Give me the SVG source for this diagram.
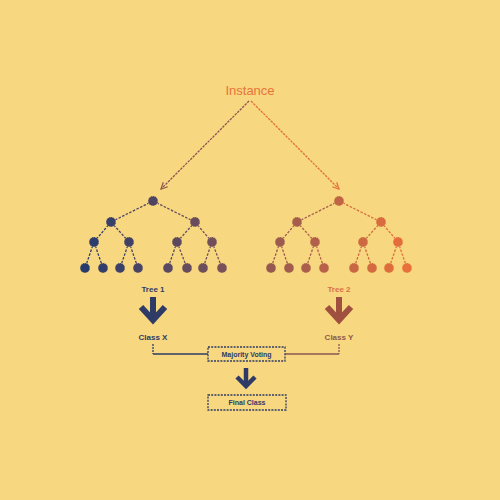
<svg xmlns="http://www.w3.org/2000/svg" width="500" height="500" viewBox="0 0 500 500">
<style>
text{font-family:"Liberation Sans",Arial,sans-serif;text-anchor:middle;dominant-baseline:central}
.e{fill:none;stroke-width:1.3;stroke-dasharray:2.5 1.5}
.n{stroke:#F7D77F;stroke-width:0.8;stroke-dasharray:1 1}
.big{fill:none;stroke-width:6;stroke-linejoin:miter;stroke-linecap:butt}
.box{fill:#F7D77F;stroke:#2E3B66;stroke-width:1.3;stroke-dasharray:2 1.2}
.lbl{font-size:8px;font-weight:bold}
</style>
<defs>
<marker id="ah" viewBox="0 0 10 10" refX="9" refY="5" markerWidth="8" markerHeight="8" orient="auto" markerUnits="userSpaceOnUse">
<path d="M1,1 L9,5 L1,9" fill="none" stroke="context-stroke" stroke-width="1.5"/>
</marker>
</defs>
<rect width="500" height="500" fill="#F7D77F"/>
<g id="instance"><text x="250" y="90" font-size="13" fill="#E8743A">Instance</text></g>
<g id="connectors">
<line x1="249" y1="101" x2="161" y2="189" stroke="#8E5452" stroke-width="1.3" stroke-dasharray="2.5 1" marker-end="url(#ah)"/>
<line x1="251" y1="101" x2="339" y2="189" stroke="#E0703E" stroke-width="1.3" stroke-dasharray="2.5 1" marker-end="url(#ah)"/>
<!-- left tree edges -->
<line class="e" x1="153" y1="201" x2="111" y2="222" stroke="#4F4563"/>
<line class="e" x1="153" y1="201" x2="195" y2="222" stroke="#684C5C"/>
<line class="e" x1="111" y1="222" x2="94" y2="242" stroke="#2B3C6D"/>
<line class="e" x1="111" y1="222" x2="129" y2="242" stroke="#414167"/>
<line class="e" x1="195" y1="222" x2="177" y2="242" stroke="#5D495F"/>
<line class="e" x1="195" y1="222" x2="212" y2="242" stroke="#724F5A"/>
<line class="e" x1="94" y1="242" x2="85" y2="268" stroke="#263A6E"/>
<line class="e" x1="94" y1="242" x2="103" y2="268" stroke="#313D6B"/>
<line class="e" x1="129" y1="242" x2="120" y2="268" stroke="#3B4068"/>
<line class="e" x1="129" y1="242" x2="138" y2="268" stroke="#464365"/>
<line class="e" x1="177" y1="242" x2="168" y2="268" stroke="#584861"/>
<line class="e" x1="177" y1="242" x2="187" y2="268" stroke="#644B5E"/>
<line class="e" x1="212" y1="242" x2="203" y2="268" stroke="#6D4E5B"/>
<line class="e" x1="212" y1="242" x2="222" y2="268" stroke="#785158"/>
<!-- right tree edges -->
<line class="e" x1="339" y1="201" x2="297" y2="222" stroke="#A65E4C"/>
<line class="e" x1="339" y1="201" x2="381" y2="222" stroke="#D86C3E"/>
<line class="e" x1="297" y1="222" x2="280" y2="242" stroke="#9C5B4F"/>
<line class="e" x1="297" y1="222" x2="315" y2="242" stroke="#B16149"/>
<line class="e" x1="381" y1="222" x2="363" y2="242" stroke="#CD6941"/>
<line class="e" x1="381" y1="222" x2="398" y2="242" stroke="#E36E3C"/>
<line class="e" x1="280" y1="242" x2="271" y2="268" stroke="#965951"/>
<line class="e" x1="280" y1="242" x2="289" y2="268" stroke="#A15C4E"/>
<line class="e" x1="315" y1="242" x2="306" y2="268" stroke="#AB5F4B"/>
<line class="e" x1="315" y1="242" x2="324" y2="268" stroke="#B66248"/>
<line class="e" x1="363" y1="242" x2="354" y2="268" stroke="#C86743"/>
<line class="e" x1="363" y1="242" x2="372" y2="268" stroke="#D36A40"/>
<line class="e" x1="398" y1="242" x2="389" y2="268" stroke="#DD6D3D"/>
<line class="e" x1="398" y1="242" x2="407" y2="268" stroke="#E8703A"/>
<!-- voting connectors -->
<line x1="153" y1="344" x2="153" y2="354" stroke="#2E3B66" stroke-width="1.3" stroke-dasharray="2 1"/>
<line x1="153" y1="354" x2="208" y2="354" stroke="#2E3B66" stroke-width="1.3"/>
<line x1="339" y1="344" x2="339" y2="354" stroke="#8E5452" stroke-width="1.3" stroke-dasharray="2 1"/>
<line x1="339" y1="354" x2="285" y2="354" stroke="#8E5452" stroke-width="1.3"/>
</g>
<g id="tree1">
<circle class="n" cx="153" cy="201" r="5" fill="#4F4563"/>
<circle class="n" cx="111" cy="222" r="5" fill="#363E6A"/>
<circle class="n" cx="195" cy="222" r="5" fill="#684C5C"/>
<circle class="n" cx="94" cy="242" r="5" fill="#2B3C6D"/>
<circle class="n" cx="129" cy="242" r="5" fill="#414167"/>
<circle class="n" cx="177" cy="242" r="5" fill="#5D495F"/>
<circle class="n" cx="212" cy="242" r="5" fill="#724F5A"/>
<circle class="n" cx="85" cy="268" r="5" fill="#263A6E"/>
<circle class="n" cx="103" cy="268" r="5" fill="#313D6B"/>
<circle class="n" cx="120" cy="268" r="5" fill="#3B4068"/>
<circle class="n" cx="138" cy="268" r="5" fill="#464365"/>
<circle class="n" cx="168" cy="268" r="5" fill="#584861"/>
<circle class="n" cx="187" cy="268" r="5" fill="#644B5E"/>
<circle class="n" cx="203" cy="268" r="5" fill="#6D4E5B"/>
<circle class="n" cx="222" cy="268" r="5" fill="#785158"/>
<text class="lbl" x="153" y="289" fill="#2E3B66">Tree 1</text>
<line class="big" x1="153" y1="297" x2="153" y2="319" stroke="#2E3B66"/>
<polyline class="big" points="141,307 153,320 165,307" stroke="#2E3B66"/>
<text class="lbl" x="153" y="337" fill="#2E3B66">Class X</text>
</g>
<g id="tree2">
<circle class="n" cx="339" cy="201" r="5" fill="#BF6545"/>
<circle class="n" cx="297" cy="222" r="5" fill="#A65E4C"/>
<circle class="n" cx="381" cy="222" r="5" fill="#D86C3E"/>
<circle class="n" cx="280" cy="242" r="5" fill="#9C5B4F"/>
<circle class="n" cx="315" cy="242" r="5" fill="#B16149"/>
<circle class="n" cx="363" cy="242" r="5" fill="#CD6941"/>
<circle class="n" cx="398" cy="242" r="5" fill="#E36E3C"/>
<circle class="n" cx="271" cy="268" r="5" fill="#965951"/>
<circle class="n" cx="289" cy="268" r="5" fill="#A15C4E"/>
<circle class="n" cx="306" cy="268" r="5" fill="#AB5F4B"/>
<circle class="n" cx="324" cy="268" r="5" fill="#B66248"/>
<circle class="n" cx="354" cy="268" r="5" fill="#C86743"/>
<circle class="n" cx="372" cy="268" r="5" fill="#D36A40"/>
<circle class="n" cx="389" cy="268" r="5" fill="#DD6D3D"/>
<circle class="n" cx="407" cy="268" r="5" fill="#E8703A"/>
<text class="lbl" x="339" y="289" fill="#D9704A">Tree 2</text>
<line class="big" x1="339" y1="297" x2="339" y2="319" stroke="#A0503E"/>
<polyline class="big" points="327,307 339,320 351,307" stroke="#A0503E"/>
<text class="lbl" x="339" y="337" fill="#8E5A4A">Class Y</text>
</g>
<g id="voting">
<rect class="box" x="208" y="347" width="77" height="14"/>
<text x="246.5" y="354" font-size="7" font-weight="bold" fill="#2E3B66">Majority Voting</text>
</g>
<g id="arrow-final">
<line x1="246" y1="368" x2="246" y2="386" stroke="#2E3B66" stroke-width="4.5"/>
<polyline points="237,377 246,386 255,377" fill="none" stroke="#2E3B66" stroke-width="4.5"/>
</g>
<g id="final">
<rect class="box" x="208" y="395" width="78" height="15"/>
<text x="247" y="402.5" font-size="7" font-weight="bold" fill="#2E3B66">Final Class</text>
</g>
</svg>
